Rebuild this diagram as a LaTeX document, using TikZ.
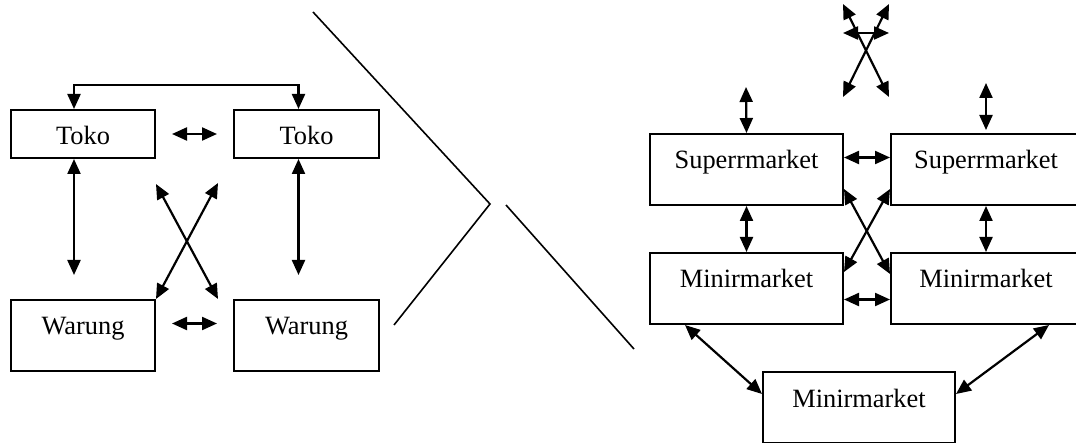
\documentclass[tikz,border=0pt]{standalone}
\usepackage{fontspec}
\setmainfont{Liberation Serif}
\usetikzlibrary{arrows.meta,calc}
\tikzset{box/.style={
            draw,
            line width=1pt,
            inner xsep=0pt,
            inner ysep=0pt,
            anchor=north west,
            font=\fontsize{13.2}{15}\selectfont,
            text height=17.5pt,
            text depth=6.5pt
        },
        bigbox/.style={
            box,
            text depth=18pt
        },
        link/.style={
            line width=1.1pt,
            {Triangle[length=7.5pt,width=6.5pt]}-{Triangle[length=7.5pt,width=6.5pt]}
        },
        divider/.style={
            line width=0.8pt
        }
    }
\begin{document}
\begin{tikzpicture}[x=0.5pt,y=-0.5pt]
        \clip (0,0) rectangle (1076,443);
        \node[box,minimum width=72pt] (toko1) at (10,109) {Toko};
        \node[box,minimum width=72.5pt] (toko2) at (233,109) {Toko};
        \node[bigbox,minimum width=72pt] (warung1) at (10,299) {Warung};
        \node[bigbox,minimum width=72.5pt] (warung2) at (233,299) {Warung};
        \draw[link] ([xshift=-4.5pt]toko1.north) -- ++(0,-24) -| ([xshift=-4pt]toko2.north);
        \draw[link,shorten <=8pt,shorten >=8pt] (toko1) -- (toko2);
        \draw[link,shorten >=12pt] ([xshift=-4.5pt]toko1.south) -- ([xshift=-4.5pt]warung1.north);
        \draw[link,shorten >=12pt] ([xshift=-4pt]toko2.south) -- ([xshift=-4pt]warung2.north);
        \draw[link,shorten <=8pt,shorten >=8pt] ([yshift=6pt]warung1.east) -- ([yshift=6pt]warung2.west);
        \draw[link] ([yshift=-12.5pt]toko1.south east) -- ([xshift=-7.5pt]warung2.north west);
        \draw[link] ([xshift=-7.5pt,yshift=-12pt]toko2.south west) -- (warung1.north east);
        \draw[divider] (313,12) -- (490,204) -- (394,325);
        \draw[divider] (506,205) -- (634,349);
        \node[bigbox,minimum width=96.5pt] (super1) at (649,133) {Superrmarket};
        \node[bigbox,minimum width=95pt] (super2) at (890,133) {Superrmarket};
        \node[bigbox,minimum width=96.5pt] (mini1) at (649,252) {Minirmarket};
        \node[bigbox,minimum width=95pt] (mini2) at (890,252) {Minirmarket};
        \node[bigbox,minimum width=96pt] (mini3) at (762,371) {Minirmarket};
        \coordinate (up1) at (746,87);
        \coordinate (up2) at (986,83);
        \draw[link] (super1.north) -- (up1);
        \draw[link,shorten <=1.5pt] (super2.north) -- (up2);
        \draw[link] ([yshift=6pt]super1.east) -- ([yshift=6pt]super2.west);
        \draw[link] (super1.south) -- (mini1.north);
        \draw[link] (super2.south) -- (mini2.north);
        \draw[link] ([yshift=8.5pt]super1.south east) -- ([yshift=-11pt]mini2.north west);
        \draw[link] ([yshift=8.5pt]super2.south west) -- ([yshift=-10pt]mini1.north east);
        \draw[link] ([yshift=-5.5pt]mini1.east) -- ([yshift=-5.5pt]mini2.west);
        \draw[link] ([xshift=18pt]mini1.south west) -- ([yshift=6.75pt]mini3.west);
        \draw[link] ([xshift=31.5pt]mini2.south) -- ([yshift=6.75pt]mini3.east);
        \coordinate (x1) at (843,4);
        \coordinate (x2) at (889,4);
        \coordinate (x3) at (843,97);
        \coordinate (x4) at (889,97);
        \coordinate (h1) at (843,33);
        \coordinate (h2) at (889,33);
        \draw[link] (x1) -- (x4);
        \draw[link] (x2) -- (x3);
        \draw[link] (h1) -- (h2);
    \end{tikzpicture}
\end{document}
